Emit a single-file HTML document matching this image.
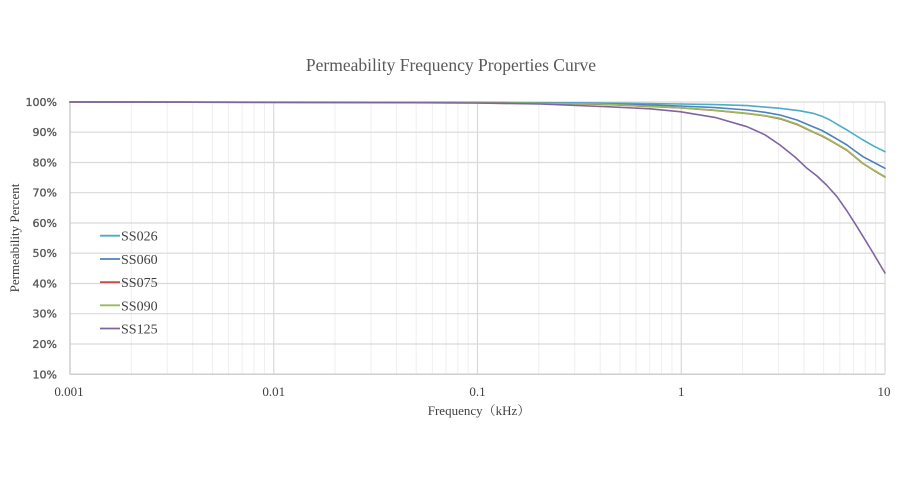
<!DOCTYPE html>
<html><head><meta charset="utf-8"><style>
html,body{margin:0;padding:0;background:#fff;}
svg{display:block;}
</style></head><body>
<svg width="900" height="500" viewBox="0 0 900 500" xmlns="http://www.w3.org/2000/svg">
<rect width="900" height="500" fill="#fff"/>
<!-- minor vertical grid -->
<g stroke="#efefef" stroke-width="1">
<line x1="131.3" y1="102" x2="131.3" y2="374"/><line x1="167.2" y1="102" x2="167.2" y2="374"/><line x1="192.7" y1="102" x2="192.7" y2="374"/><line x1="212.4" y1="102" x2="212.4" y2="374"/><line x1="228.5" y1="102" x2="228.5" y2="374"/><line x1="242.2" y1="102" x2="242.2" y2="374"/><line x1="254" y1="102" x2="254" y2="374"/><line x1="264.4" y1="102" x2="264.4" y2="374"/>
<line x1="335" y1="102" x2="335" y2="374"/><line x1="371" y1="102" x2="371" y2="374"/><line x1="396.5" y1="102" x2="396.5" y2="374"/><line x1="416.2" y1="102" x2="416.2" y2="374"/><line x1="432.3" y1="102" x2="432.3" y2="374"/><line x1="446" y1="102" x2="446" y2="374"/><line x1="457.8" y1="102" x2="457.8" y2="374"/><line x1="468.2" y1="102" x2="468.2" y2="374"/>
<line x1="538.8" y1="102" x2="538.8" y2="374"/><line x1="574.7" y1="102" x2="574.7" y2="374"/><line x1="600.2" y1="102" x2="600.2" y2="374"/><line x1="619.9" y1="102" x2="619.9" y2="374"/><line x1="636" y1="102" x2="636" y2="374"/><line x1="649.7" y1="102" x2="649.7" y2="374"/><line x1="661.5" y1="102" x2="661.5" y2="374"/><line x1="671.9" y1="102" x2="671.9" y2="374"/>
<line x1="742.6" y1="102" x2="742.6" y2="374"/><line x1="778.5" y1="102" x2="778.5" y2="374"/><line x1="804" y1="102" x2="804" y2="374"/><line x1="823.7" y1="102" x2="823.7" y2="374"/><line x1="839.8" y1="102" x2="839.8" y2="374"/><line x1="853.5" y1="102" x2="853.5" y2="374"/><line x1="865.3" y1="102" x2="865.3" y2="374"/><line x1="875.7" y1="102" x2="875.7" y2="374"/>
</g>
<!-- major grid -->
<g stroke="#d9d9d9" stroke-width="1.2">
<line x1="70" y1="102" x2="885" y2="102"/>
<line x1="70" y1="132.2" x2="885" y2="132.2"/>
<line x1="70" y1="162.5" x2="885" y2="162.5"/>
<line x1="70" y1="192.7" x2="885" y2="192.7"/>
<line x1="70" y1="223" x2="885" y2="223"/>
<line x1="70" y1="253.2" x2="885" y2="253.2"/>
<line x1="70" y1="283.5" x2="885" y2="283.5"/>
<line x1="70" y1="313.7" x2="885" y2="313.7"/>
<line x1="70" y1="344" x2="885" y2="344"/>
<line x1="273.75" y1="102" x2="273.75" y2="374"/>
<line x1="477.5" y1="102" x2="477.5" y2="374"/>
<line x1="681.25" y1="102" x2="681.25" y2="374"/>
<line x1="885" y1="102" x2="885" y2="374"/>
</g>
<g stroke="#cfcfcf" stroke-width="1.5">
<line x1="70" y1="101" x2="70" y2="374.5"/>
<line x1="70" y1="374.3" x2="885" y2="374.3"/>
</g>
<!-- series -->
<g fill="none" stroke-width="1.6" stroke-linejoin="round" stroke-linecap="round">
<polyline stroke="#4bacc6" points="70,102 476,102.4 600,103 680,104 715,104.6 747,105.6 780,108.3 800,110.8 813,113.3 822,116.2 830,120 838,124.8 847,130 855,135 863,140 874,146.2 885,151.7"/>
<polyline stroke="#4f81bd" points="70,102 476,102.6 600,103.5 680,106 715,107.6 747,110 765,112.3 780,115 797,120 813,126.7 822,130.5 830,135 838,139.7 847,145 855,151 863,156.7 874,162.5 885,168.3"/>
<polyline stroke="#c0504d" points="70,102 476,102.8 600,104.2 680,107.8 715,110.4 747,113.6 765,115.8 780,118.8 797,124.5 813,132 822,136 830,140.4 838,145 847,150.4 855,157 863,163.6 874,170.5 885,177"/>
<polyline stroke="#9bbb59" points="70,102 476,102.8 600,104 680,107.7 715,110.2 747,113.3 765,115.6 780,118.3 797,124 813,131.7 822,135.6 830,140 838,144.7 847,150 855,156.6 863,163.3 874,170.2 885,176.7"/>
<polyline stroke="#8064a2" points="70,102 300,102.3 476,103 540,104 607,106.7 650,108.8 680,111.7 715,117.4 747,126.7 765,134.8 780,145 795,157 807,168.3 817,176 827,185.5 837,196.7 847,211 857,226.7 871,249.5 885,273"/>
</g>
<!-- title -->
<text x="451" y="71" text-anchor="middle" font-family="Liberation Serif, serif" font-size="17.5" fill="#595959">Permeability Frequency Properties Curve</text>
<!-- y tick labels -->
<g font-family="DejaVu Sans, Liberation Sans, sans-serif" font-size="11" fill="#595959" stroke="#595959" stroke-width="0.35" text-anchor="end">
<text x="57" y="106">100%</text>
<text x="57" y="136.2">90%</text>
<text x="57" y="166.5">80%</text>
<text x="57" y="196.7">70%</text>
<text x="57" y="227">60%</text>
<text x="57" y="257.2">50%</text>
<text x="57" y="287.5">40%</text>
<text x="57" y="317.7">30%</text>
<text x="57" y="348">20%</text>
<text x="57" y="378.3">10%</text>
</g>
<!-- x tick labels -->
<g font-family="Liberation Serif, serif" font-size="13" fill="#404040" text-anchor="middle">
<text x="69" y="396">0.001</text>
<text x="273.75" y="396">0.01</text>
<text x="477.5" y="396">0.1</text>
<text x="681.25" y="396">1</text>
<text x="884" y="396">10</text>
</g>
<text x="479" y="415" text-anchor="middle" font-family="Liberation Serif, 'Noto Serif CJK SC', serif" font-size="13" fill="#404040">Frequency（kHz）</text>
<text transform="translate(19,238) rotate(-90)" text-anchor="middle" font-family="Liberation Serif, serif" font-size="13" fill="#404040">Permeability Percent</text>
<!-- legend -->
<g stroke-width="1.8">
<line x1="100" y1="235.7" x2="120" y2="235.7" stroke="#4bacc6"/>
<line x1="100" y1="259" x2="120" y2="259" stroke="#4f81bd"/>
<line x1="100" y1="282.2" x2="120" y2="282.2" stroke="#c0504d"/>
<line x1="100" y1="305.3" x2="120" y2="305.3" stroke="#9bbb59"/>
<line x1="100" y1="328.5" x2="120" y2="328.5" stroke="#8064a2"/>
</g>
<g font-family="Liberation Serif, serif" font-size="14" fill="#404040">
<text x="121" y="240.7">SS026</text>
<text x="121" y="264">SS060</text>
<text x="121" y="287.2">SS075</text>
<text x="121" y="310.3">SS090</text>
<text x="121" y="333.5">SS125</text>
</g>
</svg>
</body></html>
